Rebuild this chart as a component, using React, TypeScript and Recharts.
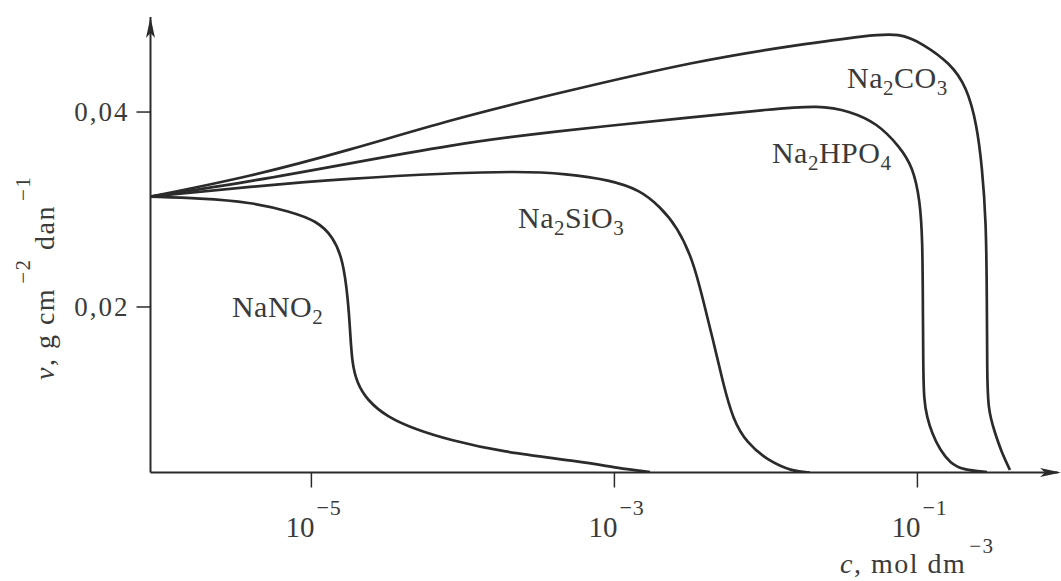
import React from 'react';
import { LineChart, Line, XAxis, YAxis, ReferenceDot } from 'recharts';

// concentration c (mol dm^-3) and rate v (g cm^-2 dan^-1)
const naNO2C = [8.67e-7, 1.84e-6, 3.94e-6, 7.23e-6, 1.089e-5, 1.39e-5, 1.618e-5, 1.746e-5, 1.8e-5, 1.854e-5, 2.0e-5, 2.33e-5, 3.155e-5, 4.98e-5, 8.22e-5, 1.758e-4, 6.21e-4, 1.042e-3, 1.718e-3];
const naNO2V = [0.03132, 0.03115, 0.03077, 0.0298, 0.02882, 0.02721, 0.02482, 0.02072, 0.01764, 0.01425, 0.0122, 0.01046, 0.00871, 0.00738, 0.00635, 0.00515, 0.00413, 0.00348, 0.00307];

const na2SiO3C = [8.67e-7, 3.94e-6, 1.8e-5, 8.22e-5, 2.275e-4, 4.86e-4, 9.35e-4, 1.476e-3, 2.0e-3, 2.59e-3, 3.3e-3, 3.85e-3, 4.48e-3, 5.21e-3, 6.07e-3, 7.5e-3, 1.016e-2, 1.51e-2, 1.954e-2];
const na2SiO3V = [0.03132, 0.03234, 0.0332, 0.03372, 0.03392, 0.03368, 0.03303, 0.032, 0.03029, 0.02824, 0.02482, 0.02072, 0.01661, 0.0122, 0.00841, 0.00605, 0.0043, 0.0031, 0.00302];

const na2HPO4C = [8.67e-7, 3.94e-6, 1.8e-5, 8.22e-5, 3.75e-4, 3.67e-3, 1.016e-2, 2.275e-2, 3.59e-2, 5.41e-2, 7.67e-2, 9.33e-2, 0.104, 0.108, 0.1086, 0.1092, 0.1104, 0.1156, 0.1247, 0.141, 0.164, 0.2, 0.288];
const na2HPO4V = [0.03132, 0.03286, 0.03474, 0.03662, 0.03799, 0.03953, 0.04025, 0.04072, 0.04008, 0.03888, 0.03642, 0.03436, 0.03098, 0.02687, 0.02072, 0.01384, 0.01046, 0.00871, 0.00707, 0.00533, 0.004, 0.00328, 0.00307];

const na2CO3C = [8.67e-7, 3.94e-6, 1.8e-5, 8.22e-5, 3.75e-4, 3.67e-3, 1.68e-2, 4.65e-2, 7.67e-2, 0.109, 0.164, 0.212, 0.247, 0.267, 0.284, 0.2875, 0.2885, 0.292, 0.325, 0.361, 0.408];
const na2CO3V = [0.03132, 0.03337, 0.03611, 0.03919, 0.04175, 0.04534, 0.04692, 0.04785, 0.04812, 0.04698, 0.04503, 0.04257, 0.03867, 0.03436, 0.02893, 0.02072, 0.01354, 0.00943, 0.00707, 0.00502, 0.00328];

const xTicks = [1e-5, 1e-3, 1e-1];
const yTicks = [0.02, 0.04];
const xDomain = [8.67e-7, 0.847];
const yDomain = [0.003019, 0.04975];

// curve label anchors (left end of text baseline), in data units
const labelNames = ['NaNO2', 'Na2SiO3', 'Na2HPO4', 'Na2CO3'];
const labelC = [2.99e-6, 2.31e-4, 1.096e-2, 3.43e-2];
const labelV = [0.01897, 0.02811, 0.03477, 0.04247];

const zip = (cs: number[], vs: number[]) => cs.map((c, i) => ({ c, v: vs[i] }));
const series = [
  { name: 'NaNO2', data: zip(naNO2C, naNO2V) },
  { name: 'Na2SiO3', data: zip(na2SiO3C, na2SiO3V) },
  { name: 'Na2HPO4', data: zip(na2HPO4C, na2HPO4V) },
  { name: 'Na2CO3', data: zip(na2CO3C, na2CO3V) },
];

const INK = '#2b2b2b';
const TEXT = '#3a3a3a';
const FONT = '"Liberation Serif", "Times New Roman", serif';

const Formula = (props: any) => {
  const { cx, cy, text } = props;
  const parts = String(text).match(/[A-Za-z]+|\d+/g) || [];
  let sub = false;
  return (
    <text x={cx} y={cy} fontFamily={FONT} fontSize={30} fill={TEXT} letterSpacing={0.5}>
      {parts.map((p: string, i: number) => {
        const isNum = /\d/.test(p);
        let dy = 0;
        if (isNum && !sub) { dy = 7; sub = true; }
        else if (!isNum && sub) { dy = -7; sub = false; }
        return (
          <tspan key={i} dy={dy} fontSize={isNum ? 21 : 30}>{p}</tspan>
        );
      })}
    </text>
  );
};

const XTick = (props: any) => {
  const { x, y, payload } = props;
  const exp = Math.round(Math.log10(payload.value));
  return (
    <g>
      <text x={x + 3} y={y + 47.5} textAnchor="end" fontFamily={FONT} fontSize={29} fill={TEXT}>10</text>
      <text x={x + 5} y={y + 25.5} textAnchor="start" fontFamily={FONT} fontSize={22} fill={TEXT} letterSpacing={1}>
        {'\u2212' + Math.abs(exp)}
      </text>
    </g>
  );
};

const YTick = (props: any) => {
  const { x, y, payload } = props;
  const s = payload.value.toFixed(2).replace('.', ',');
  return (
    <text x={x + 2} y={y} dy="0.35em" textAnchor="end" fontFamily={FONT} fontSize={27} fill={TEXT} letterSpacing={2}>
      {s}
    </text>
  );
};

const XTitle = (props: any) => {
  const vb = props.viewBox || { x: 150.5, y: 472.5, width: 907.5, height: 108.5 };
  const x0 = vb.x + vb.width - 218;
  const y0 = vb.y + 100;
  return (
    <text x={x0} y={y0} fontFamily={FONT} fontSize={28} fill={TEXT} letterSpacing={1.5}>
      <tspan fontStyle="italic">c</tspan>
      <tspan>, mol dm</tspan>
      <tspan fontSize={21} dy={-20} dx={3}>{'\u22123'}</tspan>
    </text>
  );
};

const YTitle = () => {
  const bx = 54;
  const by = 380;
  return (
    <text x={bx} y={by} transform={`rotate(-90, ${bx}, ${by})`} fontFamily={FONT} fontSize={28} fill={TEXT} letterSpacing={1.5}>
      <tspan fontStyle="italic">v</tspan>
      <tspan>, g cm</tspan>
      <tspan fontSize={21} dy={-24} dx={4}>{'\u22122'}</tspan>
      <tspan fontSize={28} dy={24}> dan</tspan>
      <tspan fontSize={21} dy={-24} dx={4}>{'\u22121'}</tspan>
    </text>
  );
};

const UpArrow = (props: any) => {
  const { cx, cy } = props;
  return <path d={`M${cx},${cy} L${cx - 4.5},${cy + 21} L${cx},${cy + 16} L${cx + 4.5},${cy + 21} Z`} fill={INK} />;
};

const RightArrow = (props: any) => {
  const { cx, cy } = props;
  const tx = cx + 3;
  return <path d={`M${tx},${cy} L${tx - 21},${cy - 4.5} L${tx - 16},${cy} L${tx - 21},${cy + 4.5} Z`} fill={INK} />;
};

export default function App() {
  return (
    <div style={{ position: 'absolute', left: 0, top: 0, width: 1061, height: 581, background: '#fff' }}>
      <LineChart width={1061} height={581} margin={{ top: 17, right: 3, bottom: 0, left: 0 }}>
        <XAxis
          type="number"
          dataKey="c"
          scale="log"
          domain={xDomain}
          allowDataOverflow
          ticks={xTicks}
          tick={<XTick />}
          tickSize={15}
          tickMargin={2}
          tickLine={{ stroke: INK, strokeWidth: 1.5 }}
          axisLine={{ stroke: INK, strokeWidth: 2 }}
          height={108.5}
          label={(p: any) => <XTitle {...p} />}
        />
        <YAxis
          type="number"
          dataKey="v"
          domain={yDomain}
          allowDataOverflow
          ticks={yTicks}
          tick={<YTick />}
          tickSize={14}
          tickMargin={9}
          tickLine={{ stroke: INK, strokeWidth: 1.5 }}
          axisLine={{ stroke: INK, strokeWidth: 2 }}
          width={150.5}
          label={() => <YTitle />}
        />
        {series.map((s) => (
          <Line
            key={s.name}
            data={s.data}
            dataKey="v"
            type="basis"
            stroke={INK}
            strokeWidth={2.7}
            dot={false}
            activeDot={false}
            isAnimationActive={false}
          />
        ))}
        <ReferenceDot x={xDomain[0]} y={yDomain[1]} r={0} ifOverflow="visible" shape={UpArrow} />
        <ReferenceDot x={xDomain[1]} y={yDomain[0]} r={0} ifOverflow="visible" shape={RightArrow} />
        {labelNames.map((n, i) => (
          <ReferenceDot
            key={n}
            x={labelC[i]}
            y={labelV[i]}
            r={0}
            ifOverflow="visible"
            shape={(p: any) => <Formula {...p} text={n} />}
          />
        ))}
      </LineChart>
    </div>
  );
}
